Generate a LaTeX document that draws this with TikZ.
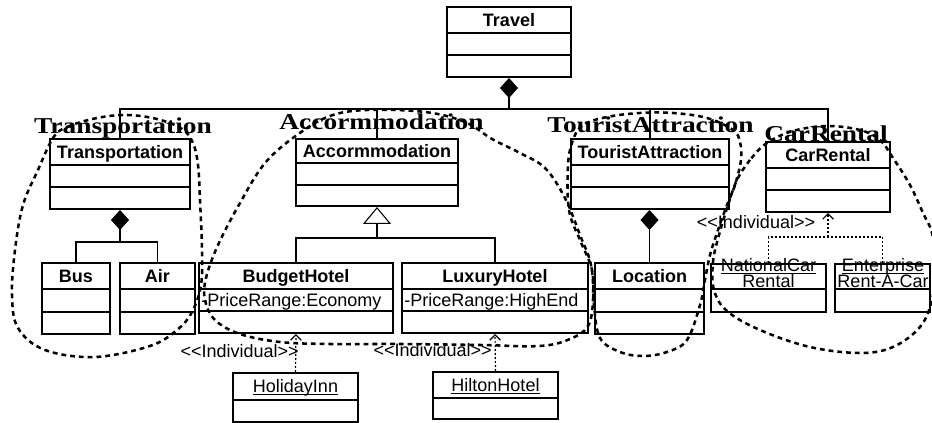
\documentclass[tikz,border=0pt]{standalone}
\usepackage{fontspec}
\setmainfont{Liberation Serif}
\setsansfont{Liberation Sans}
\usepackage{graphicx}
\usetikzlibrary{arrows.meta,fit}

% underline set close to the baseline, as UML tools draw it
\newcommand{\objul}[1]{\setbox0\hbox{#1}\rlap{\rule[-1.6pt]{\wd0}{0.7pt}}\box0}

\tikzset{
  classframe/.style={draw, line width=1.5pt, inner sep=0pt},
  compline/.style={line width=1.5pt},
  cname/.style={font=\sffamily\bfseries\fontsize{13.5}{14}\selectfont, inner sep=0pt, text height=9.7pt, text depth=0pt},
  oname/.style={font=\sffamily\fontsize{13.5}{14}\selectfont, inner sep=0pt, text height=9.7pt, text depth=0pt},
  objline/.style={font=\sffamily\fontsize{13.5}{14}\selectfont, inner sep=0pt, anchor=base},
  attr/.style={font=\sffamily\fontsize{13.5}{14}\selectfont, inner sep=0pt, text height=9.7pt, text depth=0pt, anchor=west},
  stereo/.style={font=\sffamily\fontsize{13.5}{14}\selectfont, inner sep=0pt, anchor=base},
  grouplabel/.style={font=\rmfamily\bfseries\fontsize{17}{18}\selectfont, inner sep=0pt, anchor=base},
  tree/.style={line width=0.8pt},
  compose/.style={tree, -{Diamond[length=15pt, width=13.5pt]}},
  inherit/.style={tree, -{Triangle[open, length=12.75pt, width=21pt, fill=white]}},
  instline/.style={line width=0.9pt, dash pattern=on 1.5pt off 1.5pt},
  instanceof/.style={instline, -{Straight Barb[length=4pt, width=8pt]}},
  group/.style={line width=1.9pt, dash pattern=on 3.6pt off 3pt},
}

% class box with three compartments: name, x-left, x-right, top, two separators, bottom
\newcommand{\umlclass}[7]{%
  \coordinate (#1-nw) at (#2,#4);
  \coordinate (#1-se) at (#3,#7);
  \node[classframe, fit=(#1-nw)(#1-se)] (#1) {};
  \draw[compline] (#2,#5) -- (#3,#5);
  \draw[compline] (#2,#6) -- (#3,#6);
}
% object box with two compartments: name, x-left, x-right, top, separator, bottom
\newcommand{\umlobject}[6]{%
  \coordinate (#1-nw) at (#2,#4);
  \coordinate (#1-se) at (#3,#6);
  \node[classframe, fit=(#1-nw)(#1-se)] (#1) {};
  \draw[compline] (#2,#5) -- (#3,#5);
}

\begin{document}
\begin{tikzpicture}[x=0.75pt, y=-0.75pt]
\useasboundingbox (0,0) rectangle (932,423);
\clip (0,0) rectangle (932,423);

% classes
\umlclass{travel}{447}{571}{7}{33}{55}{77}
\umlclass{trans}{50}{190}{139}{165}{187}{209}
\umlclass{accom}{296}{458}{139}{163}{185}{206}
\umlclass{tour}{571}{729}{139}{165}{187}{209}
\umlclass{car}{766}{890}{142}{168}{190}{212}
\umlclass{bus}{42}{110}{263}{289}{312}{334}
\umlclass{air}{120}{195}{263}{289}{312}{334}
\umlclass{budget}{199}{393}{263}{289}{311}{333}
\umlclass{luxury}{402}{588}{263}{289}{311}{333}
\umlclass{loc}{595}{704}{263}{289}{312}{334}

% individuals
\umlobject{holiday}{233}{358}{373}{400}{422}
\umlobject{hilton}{433}{558}{372}{398}{419}
\umlobject{national}{711}{826}{264}{289}{312}
\umlobject{enterprise}{835}{930}{264}{289}{312}

% class names
\node[cname] (travel-t) at (509,20) {Travel};
\node[cname] (trans-t) at (120,152) {Transportation};
\node[cname] (accom-t) at (377,151) {Accormmodation};
\node[cname] (tour-t) at (650,152) {TouristAttraction};
\node[cname] (car-t) at (828,155) {CarRental};
\node[cname] (bus-t) at (76,276) {Bus};
\node[cname] (air-t) at (157.5,276) {Air};
\node[cname] (budget-t) at (296,276) {BudgetHotel};
\node[cname] (luxury-t) at (495,276) {LuxuryHotel};
\node[cname] (loc-t) at (649.5,276) {Location};

% attributes
\node[attr] (budget-a) at (201,300) {-PriceRange:Economy};
\node[attr] (luxury-a) at (404,300) {-PriceRange:HighEnd};

% individual names
\node[oname] (holiday-t) at (295.5,386) {\objul{HolidayInn}};
\node[oname] (hilton-t) at (495.5,385) {\objul{HiltonHotel}};
\node[objline] (national-t1) at (768.5,272) {\objul{NationalCar}};
\node[objline] (national-t2) at (768.5,288) {\objul{Rental}};
\node[objline] (enterprise-t1) at (883,272) {\objul{Enterprise}};
\node[objline] (enterprise-t2) at (883,288) {\objul{Rent-A-Car}};

% composition of Travel
\coordinate (travelbar) at (509,109);
\draw[compose] (travelbar) -- (travel.south);
\draw[tree] (trans.north) |- (travelbar) -| (car.north);
\draw[tree] (accom.north) -- (accom.north |- travelbar);
\draw[tree] (tour.north) -- (tour.north |- travelbar);

% composition of Transportation
\coordinate (transbar) at (120,242);
\draw[compose] (transbar) -- (trans.south);
\draw[tree] (bus.north) |- (transbar) -| (air.north);

% generalization of Accormmodation
\coordinate (accbar) at (377,238);
\draw[inherit] (accbar) -- (accom.south);
\draw[tree] (budget.north) |- (accbar) -| (luxury.north);

% composition of TouristAttraction
\draw[compose] (loc.north) -- (loc.north |- tour.south);

% instance-of links
\draw[instanceof] (holiday.north) -- (budget.south);
\draw[instanceof] (hilton.north) -- (luxury.south);
\coordinate (carbar) at (828,237);
\draw[instline] (national.north) |- (carbar) -| (enterprise.north);
\draw[instanceof] (carbar) -- (car.south);

\node[stereo, anchor=base east] (st-holiday) at (299,358) {<\kern0pt<Individual>\kern0pt>};
\node[stereo, anchor=base east] (st-hilton) at (492,357) {<\kern0pt<Individual>\kern0pt>};
\node[stereo] (st-car) at (756,229) {<\kern0pt<Individual>\kern0pt>};

% group headings
\node[grouplabel] (lbl-trans) at (123,134) {\scalebox{1.21}[1]{Transportation}};
\node[grouplabel] (lbl-accom) at (381.5,130) {\scalebox{1.21}[1]{Accormmodation}};
\node[grouplabel] (lbl-tour) at (650.5,133) {\scalebox{1.21}[1]{TouristAttraction}};
\node[grouplabel] (lbl-car) at (826,142) {\scalebox{1.21}[1]{CarRental}};

% hand-drawn group outlines
\draw[group] plot[smooth cycle, tension=0.6] coordinates {
  (53,138) (67,127) (97,118) (127,115) (157,119) (182,129) (193,143) (198,165)
  (200,200) (202,250) (201,285) (192,312) (177,330) (150,346) (95,357) (45,350)
  (18,328) (12,295) (15,250) (23,205) (38,170)};
\draw[group] plot[smooth cycle, tension=0.6] coordinates {
  (297,135) (330,116) (367,110) (425,112) (465,122) (492,139) (520,153) (545,168)
  (565,198) (580,235) (591,265) (593,300) (588,326) (570,339) (540,346) (480,345)
  (400,344) (330,344) (280,342) (240,334) (215,320) (205,300) (206,278) (218,245)
  (240,203) (265,163)};
\draw[group] plot[smooth cycle, tension=0.6] coordinates {
  (568,165) (569,210) (580,240) (592,270) (594,305) (600,338) (620,352) (643,356)
  (667,352) (687,340) (700,305) (705,280) (710,255) (718,230) (727,205) (735,185)
  (741,160) (740,142) (733,130) (707,118) (673,113) (640,113) (607,117) (583,125)
  (573,140)};
\draw[group] plot[smooth cycle, tension=0.6] coordinates {
  (767,143) (750,160) (737,180) (728,205) (719,235) (713,262) (714,290) (727,311)
  (760,330) (810,347) (860,353) (893,347) (920,327) (932,300) (936,265) (932,233)
  (923,213) (910,185) (893,158) (880,140) (860,130) (827,126) (793,131)};
\end{tikzpicture}
\end{document}
